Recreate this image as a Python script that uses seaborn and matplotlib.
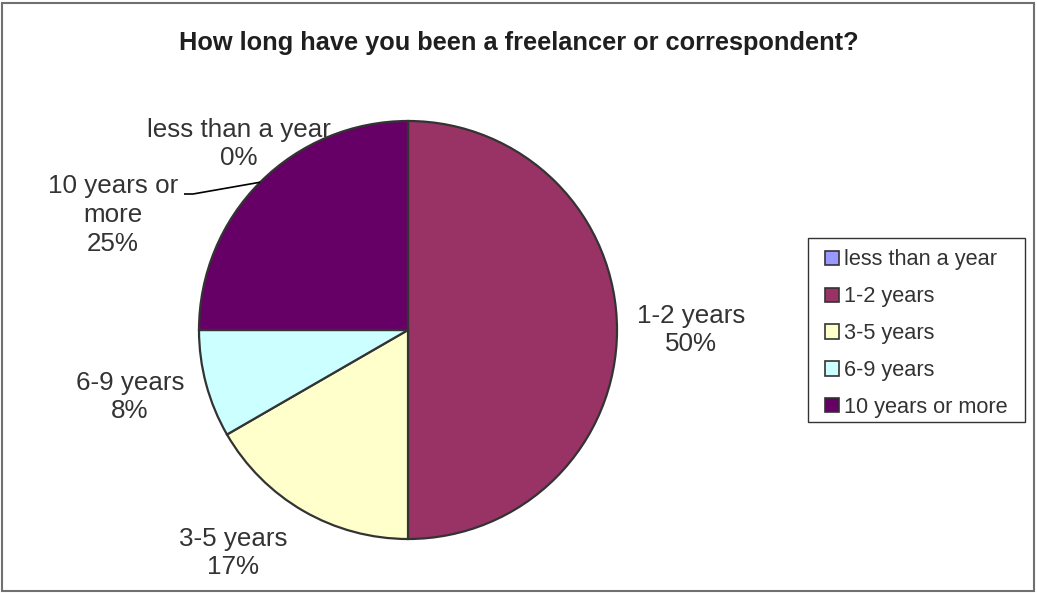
import matplotlib
matplotlib.use("Agg")
import matplotlib.pyplot as plt
import matplotlib.patches as mpatches
import numpy as np
import seaborn as sns

sns.set_theme(style="white")
plt.rcParams["font.family"] = ["Liberation Sans", "DejaVu Sans"]

# Survey responses
categories = ["less than a year", "1-2 years", "3-5 years", "6-9 years", "10 years or more"]
counts = [0, 6, 2, 1, 3]
colors = ["#9999FF", "#993366", "#FFFFCC", "#CCFFFF", "#660066"]
title = "How long have you been a freelancer or correspondent?"

W, H = 1037, 593
cx, cy, R = 408, 330, 209

fig = plt.figure(figsize=(W / 100, H / 100), dpi=100)
ax = fig.add_axes([0, 0, 1, 1])

wedges, _ = ax.pie(
    counts, colors=colors, startangle=90, counterclock=False, radius=1,
    wedgeprops=dict(edgecolor="#333333", linewidth=1.6),
)
# one data unit = one pie radius; place the pie centre on the canvas
ax.set_xlim(-cx / R, (W - cx) / R)
ax.set_ylim(-(H - cy) / R, cy / R)
ax.set_aspect("equal")
ax.axis("off")


def px(x, y):
    """Canvas pixel (from top-left) to pie data coordinates."""
    return (x - cx) / R, (cy - y) / R


total = sum(counts)
txt_color = "#333333"
label_fs = 18.7
lsp = 1.26

# label block centres (pixels) and wrapped text per category
label_place = {
    "less than a year": ((239, 144), "less than a year"),
    "1-2 years": ((691, 330), "1-2 years"),
    "3-5 years": ((233, 553), "3-5 years"),
    "6-9 years": ((130, 397), "6-9 years"),
    "10 years or more": ((113, 215), "10 years or\nmore"),
}
for w, cat, n in zip(wedges, categories, counts):
    pct = f"{round(100 * n / total):d}%"
    (lx, ly), txt = label_place[cat]
    ax.text(*px(lx, ly), f"{txt}\n{pct}", ha="center", va="center",
            fontsize=label_fs, color=txt_color, linespacing=lsp)
    if cat == "10 years or more":
        mid = np.deg2rad((w.theta1 + w.theta2) / 2)
        x0, y0 = px(184, 194)
        x1, _ = px(193, 194)
        ax.plot([x0, x1, np.cos(mid)], [y0, y0, np.sin(mid)],
                color="black", lw=1.2, solid_capstyle="butt")

fig.text(0.5, 1 - 43 / H, title, ha="center", va="center", fontsize=18.3,
         fontweight="bold", color="#1f1f1f")

# legend box
fig.patches.append(mpatches.Rectangle((808 / W, 1 - 422 / H), (1025 - 808) / W, (422 - 238) / H,
                                      transform=fig.transFigure, fill=False,
                                      edgecolor="#333333", linewidth=1.0))
handles = [mpatches.Patch(facecolor=c, edgecolor="#333333", linewidth=1.2) for c in colors]
leg = fig.legend(handles, categories, loc="upper left",
                 bbox_to_anchor=(821 / W, 1 - 245 / H), frameon=False,
                 fontsize=15.7, handlelength=0.62, handleheight=0.62, handletextpad=0.25,
                 labelspacing=0.73, borderpad=0.2, borderaxespad=0, labelcolor=txt_color)

fig.patches.append(mpatches.Rectangle((2 / W, 2 / H), 1 - 5 / W, 1 - 5 / H, transform=fig.transFigure,
                                      fill=False, edgecolor="#707070", linewidth=1.5))

fig.savefig("out.png", dpi=100, facecolor="white")
